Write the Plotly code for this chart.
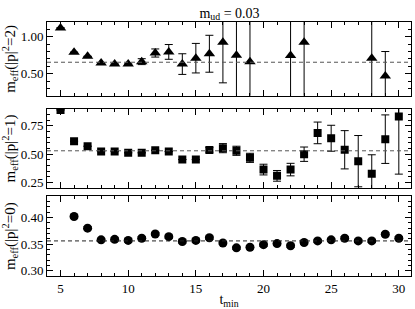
import plotly.graph_objects as go

# ---------------- data ----------------
t_top = [5, 6, 7, 8, 9, 10, 11, 12, 13, 14, 15, 16, 17, 18, 19, 22, 23, 28, 29]
m_top = [1.12, 0.79, 0.735, 0.645, 0.63, 0.63, 0.663, 0.78, 0.795, 0.63, 0.71, 0.77, 0.926, 0.75, 0.66, 0.745, 0.926, 0.71, 0.47]
e_top = [0.0, 0.0, 0.0, 0.0, 0.0, 0.0, 0.04, 0.055, 0.1, 0.14, 0.2, 0.25, 0.55, 0.7, 0.7, 0.8, 0.8, 0.8, 0.33]
fit_top = 0.655

t_mid = list(range(5, 31))
m_mid = [0.889, 0.614, 0.570, 0.523, 0.523, 0.512, 0.512, 0.535, 0.523, 0.453, 0.453, 0.538, 0.553, 0.530,
         0.468, 0.365, 0.310, 0.365, 0.500, 0.687, 0.640, 0.539, 0.439, 0.328, 0.632, 0.830]
e_mid = [0.0, 0.0, 0.0, 0.0, 0.0, 0.0, 0.0, 0.0, 0.0, 0.0, 0.0, 0.02, 0.04, 0.04,
         0.04, 0.047, 0.047, 0.055, 0.063, 0.095, 0.114, 0.168, 0.225, 0.167, 0.213, 0.505]
fit_mid = 0.53

t_bot = list(range(6, 31))
m_bot = [0.402, 0.380, 0.358, 0.359, 0.357, 0.361, 0.369, 0.364, 0.355, 0.357, 0.362, 0.352, 0.343,
         0.344, 0.349, 0.351, 0.347, 0.353, 0.356, 0.358, 0.361, 0.356, 0.356, 0.3685, 0.361]
e_bot = [0.003] * len(t_bot)
fit_bot = 0.356

FONT = "Liberation Serif"

fig = go.Figure()

def add_panel(x, y, e, sym, size, xa, ya):
    fig.add_trace(go.Scatter(
        x=x, y=y, mode="markers", xaxis=xa, yaxis=ya,
        marker=dict(symbol=sym, size=size, color="black"),
        error_y=dict(type="data", array=e, visible=True, color="black", thickness=1, width=4),
        showlegend=False, cliponaxis=True))

add_panel(t_top, m_top, e_top, "triangle-up", 10, "x", "y")
add_panel(t_mid, m_mid, e_mid, "square", 8, "x2", "y2")
add_panel(t_bot, m_bot, e_bot, "circle", 9, "x3", "y3")

for val, xr, yr, col in [(fit_top, "x domain", "y", "#555"),
                         (fit_mid, "x2 domain", "y2", "#555"),
                         (fit_bot, "x3 domain", "y3", "#222")]:
    fig.add_shape(type="line", xref=xr, yref=yr, x0=0, x1=1, y0=val, y1=val,
                  line=dict(color=col, width=1, dash="4px,3px"))

xr = [4, 30.9]
common_x = dict(range=xr, showgrid=False, zeroline=False, showline=True, linecolor="black",
                linewidth=1, mirror="ticks", ticks="inside", ticklen=6, tickcolor="black",
                tick0=5, dtick=5,
                minor=dict(ticks="inside", ticklen=3, dtick=1, tick0=5, tickcolor="black"))
common_y = dict(showgrid=False, zeroline=False, showline=True, linecolor="black", linewidth=1,
                mirror="ticks", ticks="inside", ticklen=6, tickcolor="black",
                tickfont=dict(family=FONT, size=13, color="black"),
                title_font=dict(family=FONT, size=15, color="black"), title_standoff=3)

H = 258.0
fig.update_layout(
    width=415, height=309,
    margin=dict(l=47, r=3, t=22, b=29),
    paper_bgcolor="white", plot_bgcolor="white",
    font=dict(family=FONT, color="black"),
    title=dict(text="m<sub>ud</sub> = 0.03", x=0.553, xanchor="center", y=0.975, yanchor="top",
               font=dict(family=FONT, size=14, color="black")),
    xaxis=dict(common_x, domain=[0, 1], anchor="y", showticklabels=False),
    xaxis2=dict(common_x, domain=[0, 1], anchor="y2", showticklabels=False, matches="x"),
    xaxis3=dict(common_x, domain=[0, 1], anchor="y3",
                tickfont=dict(family=FONT, size=13, color="black"),
                title=dict(text="t<sub>min</sub>", font=dict(family=FONT, size=14, color="black"),
                           standoff=1)),
    yaxis=dict(common_y, domain=[(280 - 97) / H, 1.0], anchor="x", range=[0.2, 1.2],
               tick0=0.5, dtick=0.5, tickformat=".2f",
               minor=dict(ticks="inside", ticklen=3, dtick=0.1, tick0=0.2, tickcolor="black"),
               title=dict(text="m<sub>eff</sub>(|p|<sup>2</sup>=2)")),
    yaxis2=dict(common_y, domain=[(280 - 191) / H, (280 - 110) / H], anchor="x2", range=[0.2, 0.9],
                tick0=0.25, dtick=0.25, tickformat=".2f",
                minor=dict(ticks="inside", ticklen=3, dtick=0.05, tick0=0.2, tickcolor="black"),
                title=dict(text="m<sub>eff</sub>(|p|<sup>2</sup>=1)")),
    yaxis3=dict(common_y, domain=[0, (280 - 199) / H], anchor="x3", range=[0.29, 0.44],
                tick0=0.30, dtick=0.05, tickformat=".2f",
                minor=dict(ticks="inside", ticklen=3, dtick=0.01, tick0=0.29, tickcolor="black"),
                title=dict(text="m<sub>eff</sub>(|p|<sup>2</sup>=0)")),
)

fig.write_html("out.html", config={"displayModeBar": False},
               post_script="document.body.style.margin='0';document.body.style.overflow='hidden';")
